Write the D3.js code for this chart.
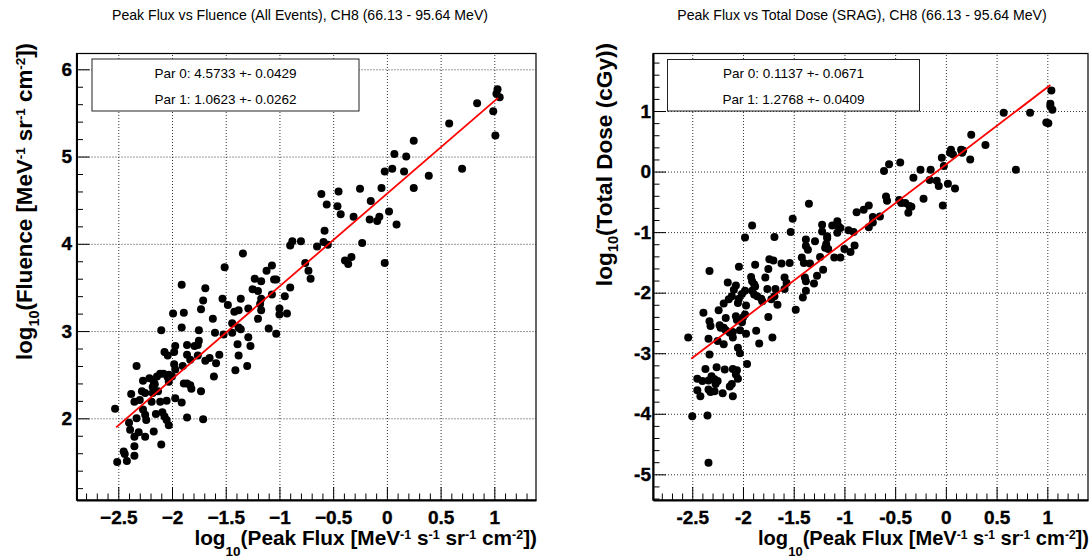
<!DOCTYPE html>
<html>
<head>
<meta charset="utf-8">
<script src="https://cdn.jsdelivr.net/npm/d3@7"></script>
<style>
  body { margin: 0; background: #fff; }
  svg { display: block; }
  text { font-family: "Liberation Sans", Arial, Helvetica, sans-serif; }
</style>
</head>
<body>
<div id="chart"></div>
<script>
// log10(peak flux), log10(fluence) for every event
var fluencePoints = [
  [1.03,5.77],[1.02,5.72],[1.05,5.68],[0.99,5.52],[1.01,5.24],[0.84,5.61],[0.58,5.38],[0.70,4.86],
  [0.25,5.18],[0.39,4.78],[0.25,4.64],[0.18,5.00],[0.16,4.83],[0.07,5.03],[0.05,4.86],[-0.02,4.83],
  [-0.05,4.64],[0.02,4.37],[0.09,4.22],[-0.07,4.31],[-0.09,4.26],[-0.16,4.28],[-0.15,4.49],[-0.25,4.63],
  [-0.31,4.31],[-0.23,4.01],[-0.43,4.34],[-0.45,4.60],[-0.46,4.43],[-0.56,4.45],[-0.61,4.57],[-0.58,4.15],
  [-0.59,4.02],[-0.55,3.99],[-0.65,3.97],[-0.80,4.03],[-0.88,4.03],[-0.90,3.98],
  [-1.34,3.89],[-1.51,3.73],[-0.76,3.78],[-0.73,3.69],[-0.71,3.60],[-0.90,3.50],[-0.95,3.40],[-0.39,3.81],
  [-0.36,3.77],[-0.33,3.85],[-0.02,3.78],[-1.12,3.69],[-1.07,3.75],[-1.23,3.60],[-1.17,3.57],[-1.05,3.59],
  [-1.03,3.59],[-1.25,3.48],[-1.20,3.46],[-1.07,3.42],[-1.17,3.37],[-1.18,3.31],[-1.36,3.37],[-1.53,3.37],
  [-1.48,3.30],[-1.29,3.26],[-1.42,3.22],[-1.38,3.24],[-1.00,3.26],[-1.00,3.19],[-0.93,3.20],[-1.17,3.24],
  [-1.20,3.14],[-1.44,3.09],[-1.38,3.04],[-1.36,3.02],[-1.10,3.03],[-1.03,2.97],[-1.44,2.98],[-1.29,2.93],
  [-1.27,2.83],[-1.39,2.85],[-1.38,2.72],[-1.30,2.60],[-1.41,2.55],[-1.56,2.73],[-1.59,2.63],[-1.61,2.48],
  [-1.62,3.14],[-1.60,2.98],[-1.52,2.96],[-1.69,3.49],[-1.71,3.35],[-1.73,3.25],[-1.89,3.21],[-1.91,3.53],
  [-1.99,3.20],[-1.91,3.04],[-2.10,3.01],[-1.75,3.01],[-1.75,2.89],[-1.76,2.84],[-1.79,2.83],[-1.86,2.84],
  [-1.86,2.73],[-1.83,2.67],[-1.76,2.72],[-1.69,2.66],[-1.65,2.69],[-1.97,2.83],[-1.98,2.76],[-2.07,2.76],
  [-2.04,2.72],[-1.90,2.60],[-1.98,2.62],[-1.97,2.56],[-2.33,2.60],[-2.27,2.43],[-2.21,2.46],[-2.17,2.42],
  [-2.14,2.48],[-2.08,2.51],[-2.11,2.51],[-2.03,2.50],[-2.04,2.47],[-2.00,2.48],[-2.03,2.42],[-1.89,2.40],
  [-1.86,2.40],[-1.82,2.34],[-1.73,2.31],[-1.83,2.38],[-2.16,2.39],[-2.18,2.36],[-2.28,2.31],[-2.25,2.29],
  [-2.38,2.28],[-2.35,2.19],[-2.30,2.21],[-2.18,2.29],[-2.13,2.31],[-2.11,2.19],[-2.19,2.19],[-1.97,2.23],
  [-1.91,2.18],[-2.05,2.20],[-2.27,2.10],[-2.25,2.04],[-2.24,1.98],[-2.33,2.00],[-2.09,2.07],[-2.15,2.05],
  [-2.07,2.02],[-2.05,1.98],[-2.03,1.92],[-1.86,2.01],[-1.71,1.99],[-2.53,2.11],[-2.40,1.95],[-2.39,1.87],
  [-2.35,1.79],[-2.31,1.84],[-2.25,1.79],[-2.17,1.85],[-2.35,1.68],[-2.10,1.70],[-2.45,1.62],[-2.44,1.59],
  [-2.42,1.51],[-2.35,1.57],[-2.51,1.50]
];

// log10(peak flux), log10(total dose in cGy)
var dosePoints = [
  [1.04,1.34],[1.03,1.12],[1.03,1.08],[1.05,1.02],[0.99,0.81],[1.01,0.80],[0.83,0.97],[0.57,0.97],
  [0.69,0.03],[0.39,0.44],[0.25,0.61],[0.24,0.20],[0.17,0.35],[0.15,0.36],[0.16,0.31],[0.05,0.36],
  [0.07,0.28],[0.04,0.31],[-0.04,0.23],[-0.02,0.09],[-0.03,-0.56],[0.02,-0.20],[0.09,-0.28],[-0.07,-0.24],
  [-0.09,-0.15],[-0.16,-0.14],[-0.15,0.03],[-0.25,0.03],[-0.22,-0.45],[-0.32,-0.10],[-0.36,-0.57],[-0.37,-0.68],
  [-0.34,-0.58],[-0.40,-0.52],[-0.44,-0.52],[-0.46,-0.47],[-0.45,0.15],[-0.56,0.12],[-0.61,0.01],[-0.59,-0.41],
  [-0.58,-0.48],[-0.65,-0.74],[-0.72,-0.75],[-0.72,-0.84],[-0.76,-0.92],[-0.76,-0.56],[-0.81,-0.63],[-0.88,-0.67],
  [-0.91,-1.00],[-0.96,-0.97],[-1.07,-0.82],[-1.06,-0.90],[-1.04,-0.93],[-1.12,-0.89],[-1.22,-0.88],[-1.22,-0.99],
  [-1.35,-0.53],[-1.51,-0.78],[-1.53,-1.00],[-1.91,-0.89],[-1.07,-1.01],[-1.17,-1.10],
  [-1.98,-1.09],[-1.69,-1.08],[-1.38,-1.12],[-1.29,-1.15],[-1.38,-1.23],[-1.36,-1.29],[-1.17,-1.07],[-1.18,-1.20],
  [-1.19,-1.26],[-1.16,-1.28],[-1.00,-1.28],[-0.90,-1.22],[-0.94,-1.33],[-1.10,-1.42],[-1.04,-1.42],[-1.42,-1.42],
  [-1.24,-1.41],[-1.34,-1.52],[-1.40,-1.51],[-1.74,-1.45],[-1.70,-1.47],[-1.75,-1.61],[-1.88,-1.54],[-1.62,-1.52],
  [-1.54,-1.51],[-2.04,-1.57],[-2.33,-1.64],[-1.21,-1.62],[-1.27,-1.72],[-1.30,-1.85],[-1.38,-1.81],[-1.39,-1.75],
  [-1.38,-1.97],[-1.41,-2.08],[-1.59,-1.75],[-1.57,-1.84],[-1.59,-1.94],[-1.68,-1.94],[-1.69,-2.06],[-1.76,-1.94],
  [-1.78,-1.75],[-1.92,-1.74],[-1.91,-1.81],[-1.89,-1.86],[-1.88,-1.90],[-1.91,-1.97],[-1.89,-2.03],[-1.86,-2.06],
  [-1.82,-2.10],[-1.81,-2.14],[-1.72,-2.11],[-2.15,-1.83],[-2.07,-1.88],[-2.09,-1.95],[-2.11,-2.06],[-2.14,-2.11],
  [-2.04,-2.10],[-2.01,-2.02],[-1.98,-1.97],[-2.19,-2.18],[-2.24,-2.29],[-2.39,-2.33],[-2.33,-2.47],[-2.32,-2.55],
  [-2.17,-2.42],[-2.05,-2.17],[-1.97,-2.21],[-2.06,-2.45],[-2.07,-2.39],[-2.00,-2.41],[-1.98,-2.36],[-2.01,-2.49],
  [-2.23,-2.54],[-2.22,-2.58],[-2.19,-2.58],[-2.17,-2.62],[-2.13,-2.66],[-2.10,-2.65],[-2.03,-2.62],[-1.97,-2.68],
  [-1.87,-2.63],[-1.75,-2.40],[-1.66,-2.20],[-1.48,-2.28],[-1.71,-2.74],[-1.84,-2.84],[-2.54,-2.74],[-2.34,-2.76],
  [-2.25,-2.80],[-2.19,-2.85],[-2.10,-2.74],[-2.05,-2.91],[-2.03,-3.00],[-2.33,-3.02],[-1.96,-3.18],[-2.37,-3.26],
  [-2.26,-3.23],[-2.18,-3.27],[-2.10,-3.26],[-2.06,-3.28],[-2.07,-3.35],[-2.05,-3.42],[-2.11,-3.51],[-2.13,-3.55],
  [-2.45,-3.42],[-2.40,-3.46],[-2.31,-3.38],[-2.28,-3.43],[-2.34,-3.45],[-2.25,-3.46],[-2.27,-3.51],[-2.34,-3.60],
  [-2.32,-3.64],[-2.28,-3.63],[-2.45,-3.61],[-2.42,-3.71],[-2.20,-3.66],[-2.10,-3.71],[-2.50,-4.04],[-2.35,-4.03],
  [-2.34,-4.81]
];

// linear fit results (par0 + par1 * x) and the x range they were drawn over
var fluenceFit = [4.5733, 1.0623];
var fluenceFitErr = ["0.0429", "0.0262"];
var fluenceFitRange = [-2.52, 1.035];
var doseFit = [0.1137, 1.2768];
var doseFitErr = ["0.0671", "0.0409"];
var doseFitRange = [-2.51, 1.03];

// tick values
var xTicks = [-2.5, -2, -1.5, -1, -0.5, 0, 0.5, 1];
var fluenceYTicks = [2, 3, 4, 5, 6];
var doseYTicks = [-5, -4, -3, -2, -1, 0, 1];

var fluenceTitle = "Peak Flux vs Fluence (All Events), CH8 (66.13 - 95.64 MeV)";
var doseTitle = "Peak Flux vs Total Dose (SRAG), CH8 (66.13 - 95.64 MeV)";

var svgWidth = 1090;
var svgHeight = 560;

var svg = d3.select("#chart").append("svg")
  .attr("width", svgWidth)
  .attr("height", svgHeight);

// write text with sub/superscripts, parts = [{t, sub|sup}]
function richText(sel, parts, size, subShift) {
  var cur = 0;
  parts.forEach(function(p) {
    var shift = p.sub ? subShift * size : (p.sup ? -0.3 * size : 0);
    sel.append("tspan")
      .attr("dy", shift - cur)
      .style("font-size", (p.sub ? size * 0.65 : p.sup ? size * 0.6 : size) + "px")
      .text(p.t);
    cur = shift;
  });
}

var xTitleParts = [
  {t: "log"}, {t: "10", sub: true}, {t: "(Peak Flux [MeV"}, {t: "-1", sup: true},
  {t: " s"}, {t: "-1", sup: true}, {t: " sr"}, {t: "-1", sup: true},
  {t: " cm"}, {t: "-2", sup: true}, {t: "])"}
];

var panels = [
  {
    id: "fluence", points: fluencePoints, fit: fluenceFit, fitErr: fluenceFitErr, fitRange: fluenceFitRange,
    left: 76.5, right: 536, top: 53.5, bottom: 500,
    xDomain: [-2.889, 1.388], yDomain: [1.064, 6.181],
    yTicks: fluenceYTicks, minus: "\u2212", yPad: 4.5,
    title: fluenceTitle, titleX: 300,
    box: {x: 92, y: 59, w: 267, h: 52},
    xTitleSize: 20.8, yTitleSize: 22.3, yTitleX: 32,
    yTitleParts: [
      {t: "log"}, {t: "10", sub: true}, {t: "(Fluence [MeV"}, {t: "-1", sup: true},
      {t: " sr"}, {t: "-1", sup: true}, {t: " cm"}, {t: "-2", sup: true}, {t: "])"}
    ]
  },
  {
    id: "dose", points: dosePoints, fit: doseFit, fitErr: doseFitErr, fitRange: doseFitRange,
    left: 653, right: 1088, top: 53.5, bottom: 500,
    xDomain: [-2.887, 1.401], yDomain: [-5.424, 1.95],
    yTicks: doseYTicks, minus: "-", yPad: 2,
    title: doseTitle, titleX: 862,
    box: {x: 667.5, y: 59.5, w: 252, h: 51.5},
    xTitleSize: 20.1, yTitleSize: 22.6, yTitleX: 611.5,
    yTitleParts: [{t: "log"}, {t: "10", sub: true}, {t: "(Total Dose (cGy))"}]
  }
];

panels.forEach(function(p) {
  var w = p.right - p.left;
  var h = p.bottom - p.top;

  var x = d3.scaleLinear().domain(p.xDomain).range([0, w]);
  var y = d3.scaleLinear().domain(p.yDomain).range([h, 0]);

  var g = svg.append("g").attr("transform", `translate(${p.left}, ${p.top})`);

  svg.append("defs").append("clipPath").attr("id", "clip-" + p.id)
    .append("rect").attr("width", w).attr("height", h);

  // dotted grid
  var gx = g.append("g").attr("transform", `translate(0, ${h})`)
    .call(d3.axisBottom(x).tickValues(xTicks).tickSize(-h).tickFormat(""));
  var gy = g.append("g")
    .call(d3.axisLeft(y).tickValues(p.yTicks).tickSize(-w).tickFormat(""));
  [gx, gy].forEach(function(a) {
    a.select(".domain").remove();
    a.selectAll("line").attr("stroke", "#333").attr("stroke-width", 1).attr("stroke-dasharray", "1,2");
  });

  var plot = g.append("g").attr("clip-path", `url(#clip-${p.id})`);

  plot.selectAll("circle")
    .data(p.points)
    .enter()
    .append("circle")
    .attr("cx", d => x(d[0]))
    .attr("cy", d => y(d[1]))
    .attr("r", 4)
    .attr("fill", "#000");

  // fit line
  plot.append("line")
    .attr("x1", x(p.fitRange[0]))
    .attr("y1", y(p.fit[0] + p.fit[1] * p.fitRange[0]))
    .attr("x2", x(p.fitRange[1]))
    .attr("y2", y(p.fit[0] + p.fit[1] * p.fitRange[1]))
    .attr("stroke", "#ff0000")
    .attr("stroke-width", 1.8);

  // frame
  g.append("rect").attr("width", w).attr("height", h)
    .attr("fill", "none").attr("stroke", "#000").attr("stroke-width", 1.2);

  // minor ticks
  var xMinor = d3.range(-28, 14).map(v => v / 10).filter(v => Math.abs(v * 2 - Math.round(v * 2)) > 1e-6);
  var yMinor = d3.range(Math.ceil(p.yDomain[0] * 5), Math.floor(p.yDomain[1] * 5) + 1)
    .map(v => v / 5).filter(v => Math.abs(v - Math.round(v)) > 1e-6);

  g.append("g").attr("transform", `translate(0, ${h})`)
    .call(d3.axisBottom(x).tickValues(xMinor).tickSizeInner(-6.5).tickSizeOuter(0).tickFormat(""))
    .call(a => a.select(".domain").remove());
  g.append("g")
    .call(d3.axisLeft(y).tickValues(yMinor).tickSizeInner(-6.5).tickSizeOuter(0).tickFormat(""))
    .call(a => a.select(".domain").remove());

  // major ticks + labels
  var fmt = v => String(v).replace("-", p.minus);
  var xAxis = g.append("g").attr("transform", `translate(0, ${h})`)
    .call(d3.axisBottom(x).tickValues(xTicks).tickSizeInner(-13).tickSizeOuter(0).tickFormat(fmt));
  xAxis.selectAll("text").attr("y", 23.5).attr("dy", 0);

  var yAxis = g.append("g")
    .call(d3.axisLeft(y).tickValues(p.yTicks).tickSizeInner(-13).tickSizeOuter(0).tickPadding(p.yPad).tickFormat(fmt));

  [xAxis, yAxis].forEach(function(a) {
    a.attr("font-size", null).attr("font-family", null);
    a.select(".domain").attr("stroke-width", 2);
    a.selectAll("text")
      .attr("fill", "#000")
      .attr("stroke", "#000")
      .attr("stroke-width", 0.35)
      .style("font-size", "19px")
      .style("font-weight", "bold");
  });

  // fit parameter box
  g.append("rect")
    .attr("x", p.box.x - p.left).attr("y", p.box.y - p.top)
    .attr("width", p.box.w).attr("height", p.box.h)
    .attr("fill", "#fff").attr("stroke", "#222").attr("stroke-width", 1);
  [0, 1].forEach(function(i) {
    svg.append("text")
      .attr("x", p.box.x + p.box.w / 2)
      .attr("y", p.box.y + 18.5 + i * 26)
      .attr("text-anchor", "middle")
      .style("font-size", "13.5px")
      .text(`Par ${i}: ${p.fit[i].toFixed(4)} +- ${p.fitErr[i]}`);
  });

  // title
  svg.append("text")
    .attr("x", p.titleX).attr("y", 19.5)
    .attr("text-anchor", "middle")
    .style("font-size", "14.1px")
    .text(p.title);

  // axis titles
  var xt = svg.append("text")
    .attr("x", p.right + 1).attr("y", 545)
    .attr("text-anchor", "end")
    .style("font-weight", "bold");
  richText(xt, xTitleParts, p.xTitleSize, 0.55);

  var yt = svg.append("text")
    .attr("transform", `translate(${p.yTitleX}, 43) rotate(-90)`)
    .attr("text-anchor", "end")
    .style("font-weight", "bold");
  richText(yt, p.yTitleParts, p.yTitleSize, 0.3);
});
</script>
</body>
</html>
